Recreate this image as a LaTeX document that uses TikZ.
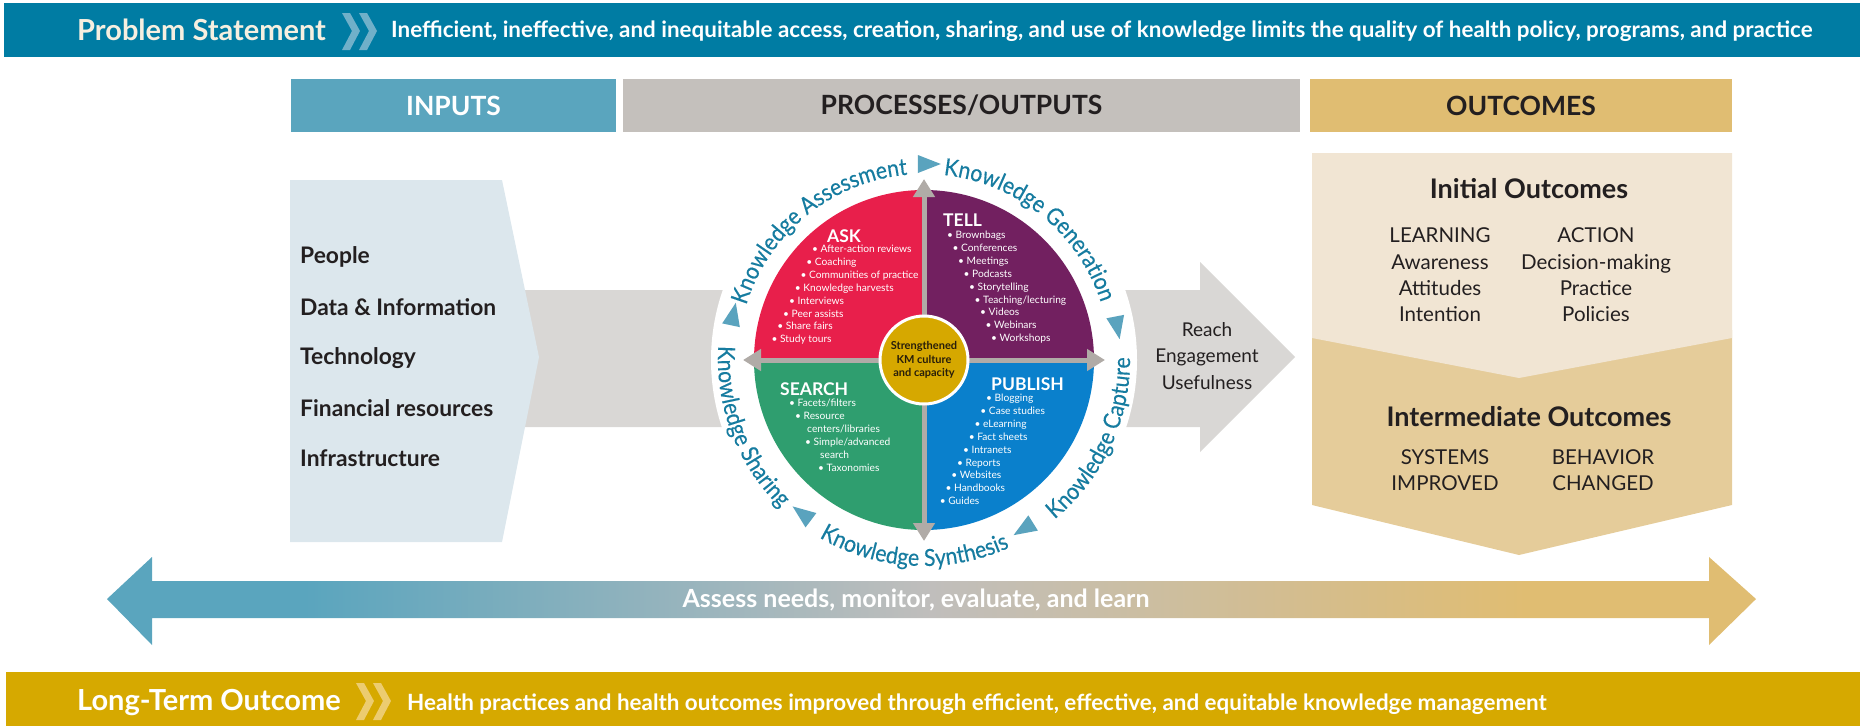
\documentclass[tikz,border=0pt]{standalone}
\usepackage{fontspec}
\setmainfont{Lato}
\newfontfamily\ringface[FakeStretch=0.9,FakeBold=0.3]{Lato}
\usetikzlibrary{arrows.meta,shapes.geometric,decorations.text}

\definecolor{probblue}{RGB}{0,124,163}
\definecolor{chevblue}{RGB}{112,176,201}
\definecolor{probcream}{RGB}{246,239,224}
\definecolor{inhead}{RGB}{90,165,190}
\definecolor{prochead}{RGB}{196,192,188}
\definecolor{outhead}{RGB}{224,189,114}
\definecolor{midgrey}{RGB}{192,190,188}
\definecolor{inpanel}{RGB}{220,231,237}
\definecolor{flowgrey}{RGB}{217,215,213}
\definecolor{outlight}{RGB}{241,229,211}
\definecolor{outdark}{RGB}{229,204,154}
\definecolor{darktext}{RGB}{35,31,32}
\definecolor{ringteal}{RGB}{22,124,160}
\definecolor{tipteal}{RGB}{90,163,190}
\definecolor{askred}{RGB}{232,31,75}
\definecolor{tellpurple}{RGB}{114,32,96}
\definecolor{searchgreen}{RGB}{47,158,111}
\definecolor{publishblue}{RGB}{10,128,204}
\definecolor{axisgrey}{RGB}{176,171,167}
\definecolor{hubgold}{RGB}{214,168,0}
\definecolor{hubtext}{RGB}{40,30,10}
\definecolor{ltgold}{RGB}{214,169,0}
\definecolor{chevgold}{RGB}{236,204,112}

% only 25bp..75bp of the shading shows across the path
\pgfdeclarehorizontalshading{kmband}{100bp}{color(0bp)=(inhead); color(31bp)=(inhead); color(50bp)=(midgrey); color(68bp)=(outhead); color(100bp)=(outhead)}

\newcommand\ringfont{\ringface\fontsize{23.5}{23.5}\selectfont}

\tikzset{
  bandtitle/.style={anchor=west, inner sep=0pt, text=white, font=\fontsize{29}{33}\selectfont\bfseries},
  bandtext/.style={anchor=west, inner sep=0pt, text=white, font=\fontsize{22.4}{26}\selectfont\bfseries},
  headbox/.style={minimum height=53pt, inner sep=0pt, text=darktext, font=\fontsize{26.5}{30}\selectfont\bfseries},
  inputitem/.style={anchor=west, inner sep=0pt, text=darktext, font=\fontsize{22.8}{26}\selectfont\bfseries},
  quadlabel/.style={inner sep=0pt, text=white, font=\fontsize{17.5}{20}\selectfont\bfseries},
  item/.style={anchor=west, inner sep=0pt, text=white, font=\fontsize{10.2}{12}\selectfont, text height=7pt, text depth=2pt},
  axisarrow/.style={draw=axisgrey, line width=5pt, -{Triangle[width=21pt,length=18pt]}},
  hub/.style={circle, fill=hubgold, draw=white, line width=3pt, minimum size=88pt, inner sep=0pt, align=center, text=hubtext, font=\fontsize{11}{13.3}\selectfont\bfseries},
  flowtip/.style={isosceles triangle, isosceles triangle stretches, minimum width=18pt, minimum height=23pt, inner sep=0pt, fill=tipteal},
  reachtext/.style={align=center, inner sep=0pt, text=darktext, font=\fontsize{19}{26.5}\selectfont},
  outtitle/.style={inner sep=0pt, text=darktext, font=\fontsize{27}{30}\selectfont\bfseries},
  outcol/.style={align=center, inner sep=0pt, text=darktext, font=\fontsize{20.5}{26.3}\selectfont},
  arrowtext/.style={inner sep=0pt, text=white, font=\fontsize{25}{28}\selectfont\bfseries},
}

\begin{document}
\begin{tikzpicture}[x=1pt,y=1pt,yscale=-1,xscale=1]
\useasboundingbox (0,0) rectangle (1860,726);

% Problem statement band
\fill[probblue] (4,3) rectangle (1860,57);
\foreach \dx in {0,17}
  \fill[chevblue] (342+\dx,13) -- (350+\dx,13) -- (360+\dx,31) -- (350+\dx,50) -- (342+\dx,50) -- (352+\dx,31) -- cycle;
\node[bandtitle, text=probcream] (problem) at (77,30) {Problem Statement};
\node[bandtext] (problemtext) at (391,31) {Inefficient, ineffective, and inequitable access, creation, sharing, and use of knowledge limits the quality of health policy, programs, and practice};

% Column headers
\node[headbox, fill=inhead, text=white, minimum width=325pt] (inputs) at (453.5,105.5) {INPUTS};
\node[headbox, fill=prochead, minimum width=677pt] (processes) at (961.5,105.5) {PROCESSES/OUTPUTS};
\node[headbox, fill=outhead, minimum width=422pt] (outcomes) at (1521,105.5) {OUTCOMES};

%Shape: grey flow band with the reach arrow
\fill[flowgrey] (480,290) -- (1200,290) -- (1200,262) -- (1295,357) -- (1200,452) -- (1200,427) -- (480,427) -- cycle;
%Shape: white ring round the wheel
\fill[white] (924,360) circle[radius=213];

%Shape: inputs panel
\fill[inpanel] (290,180) -- (502,180) -- (539,357) -- (502,542) -- (290,542) -- cycle;
\foreach \txt [count=\i] in {People, Data \& Information, Technology, Financial resources, Infrastructure}
  \node[inputitem] (res\i) at (300,{207+50.2*\i}) {\txt};

%Shape: outcomes panel
\fill[outdark] (1312,330) -- (1519,370) -- (1732,330) -- (1732,505) -- (1519,555) -- (1312,505) -- cycle;
\fill[outlight] (1312,153) -- (1732,153) -- (1732,338) -- (1519,378) -- (1312,338) -- cycle;
\node[outtitle] (initial) at (1529,189) {Initial Outcomes};
\node[outcol] (learning) at (1440,275) {LEARNING\\Awareness\\Attitudes\\Intention};
\node[outcol] (action) at (1596,275) {ACTION\\Decision-making\\Practice\\Policies};
\node[outtitle] (intermediate) at (1529,417) {Intermediate Outcomes};
\node[outcol] (systems) at (1445,470) {SYSTEMS\\IMPROVED};
\node[outcol] (behavior) at (1603,470) {BEHAVIOR\\CHANGED};

% Reach arrow text
\node[reachtext] (reach) at (1207,356) {Reach\\Engagement\\Usefulness};

% KM wheel
\begin{scope}[shift={(924,360)},yscale=-1]
  \fill[tellpurple] (0,0) -- (0:170) arc[start angle=0, end angle=90, radius=170] -- cycle;
  \fill[askred] (0,0) -- (90:170) arc[start angle=90, end angle=180, radius=170] -- cycle;
  \fill[searchgreen] (0,0) -- (180:170) arc[start angle=180, end angle=270, radius=170] -- cycle;
  \fill[publishblue] (0,0) -- (270:170) arc[start angle=270, end angle=360, radius=170] -- cycle;
  \foreach \a in {0,90,180,270}
    \draw[axisarrow] (0,0) -- (\a:181);
  \node[hub] (hub) at (0,0) {Strengthened\\KM culture\\and capacity};

  % cycle labels round the wheel
  \path[decorate, decoration={text along path, text align=center, text color=ringteal, text={|\ringfont|Knowledge Assessment}}]
    (169:186) arc[start angle=169, end angle=89, radius=186];
  \path[decorate, decoration={text along path, text align=center, text color=ringteal, text={|\ringfont|Knowledge Generation}}]
    (91:186) arc[start angle=91, end angle=11, radius=186];
  \path[decorate, decoration={text along path, text align=center, text color=ringteal, text={|\ringfont|Knowledge Capture}}]
    (-65:206) arc[start angle=-65, end angle=15, radius=206];
  \path[decorate, decoration={text along path, text align=center, text color=ringteal, text={|\ringfont|Knowledge Synthesis}}]
    (-133:206) arc[start angle=-133, end angle=-53, radius=206];
  \path[decorate, decoration={text along path, text align=center, text color=ringteal, text={|\ringfont|Knowledge Sharing}}]
    (161:206) arc[start angle=161, end angle=241, radius=206];
  \foreach \ang [count=\k] in {90,11,-58,-127,168}
    \node[flowtip, rotate=\ang-90] (tip\k) at (\ang:196) {};
\end{scope}

% Quadrant contents
\node[quadlabel] (ask) at (844,236) {ASK};
\foreach \txt [count=\i from 0] in {After-action reviews, Coaching, Communities of practice, Knowledge harvests, Interviews, Peer assists, Share fairs, Study tours}
  \node[item] (ask\i) at ({812-5.8*\i},{250+12.9*\i}) {\textbullet\ \txt};
\node[quadlabel, anchor=west] (tell) at (943,220) {TELL};
\foreach \txt [count=\i from 0] in {Brownbags, Conferences, Meetings, Podcasts, Storytelling, Teaching/lecturing, Videos, Webinars, Workshops}
  \node[item] (tell\i) at ({947+5.5*\i},{236+12.9*\i}) {\textbullet\ \txt};
\node[quadlabel, anchor=west] (search) at (780,389) {SEARCH};
\node[item] (search0) at (789,404) {\textbullet\ Facets/filters};
\node[item] (search1) at (795,417) {\textbullet\ Resource};
\node[item] (search2) at (807,430) {centers/libraries};
\node[item] (search3) at (805,443) {\textbullet\ Simple/advanced};
\node[item] (search4) at (820,456) {search};
\node[item] (search5) at (818,469) {\textbullet\ Taxonomies};
\node[quadlabel, anchor=west] (publish) at (991,384) {PUBLISH};
\foreach \txt [count=\i from 0] in {Blogging, Case studies, eLearning, Fact sheets, Intranets, Reports, Websites, Handbooks, Guides}
  \node[item] (publish\i) at ({986-5.8*\i},{399+12.9*\i}) {\textbullet\ \txt};

%Shape: monitoring double arrow
\shade[shading=kmband] (107,599) -- (152,557) -- (152,581) -- (1709,581) -- (1709,557) -- (1756,599) -- (1709,645) -- (1709,618) -- (152,618) -- (152,645) -- cycle;
\node[arrowtext] (assess) at (916,600) {Assess needs, monitor, evaluate, and learn};

% Long-term outcome band
\fill[ltgold] (6,672) rectangle (1860,726);
\foreach \dx in {0,17}
  \fill[chevgold] (356+\dx,683) -- (364+\dx,683) -- (374+\dx,701) -- (364+\dx,720) -- (356+\dx,720) -- (366+\dx,701) -- cycle;
\node[bandtitle] (longterm) at (77,703) {Long-Term Outcome};
\node[bandtext] (longtermtext) at (407,704) {Health practices and health outcomes improved through efficient, effective, and equitable knowledge management};

\end{tikzpicture}
\end{document}
